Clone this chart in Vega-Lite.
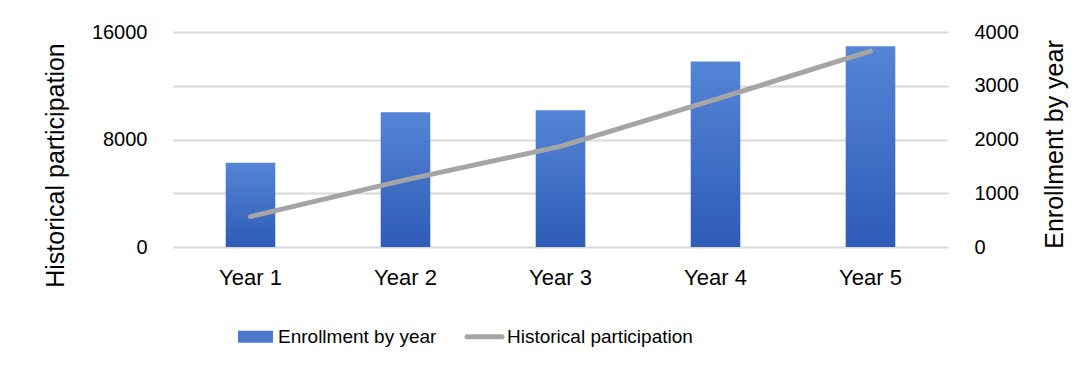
{
  "$schema": "https://vega.github.io/schema/vega-lite/v6.json",
  "autosize": {"type": "none"},
  "width": 775,
  "height": 215,
  "padding": {"left": 173, "top": 32, "right": 140, "bottom": 127},
  "background": "white",
  "config": {
    "font": "Liberation Sans",
    "view": {"stroke": null},
    "axis": {"labelFont": "Liberation Sans", "titleFont": "Liberation Sans", "titleFontWeight": "normal", "labelColor": "#000000", "titleColor": "#000000"}
  },
  "data": {
    "values": [
      {"year": "Year 1", "enrollment": 1568, "historical": 2264},
      {"year": "Year 2", "enrollment": 2507, "historical": 5000},
      {"year": "Year 3", "enrollment": 2544, "historical": 7490},
      {"year": "Year 4", "enrollment": 3453, "historical": 10980},
      {"year": "Year 5", "enrollment": 3733, "historical": 14580}
    ]
  },
  "encoding": {
    "x": {
      "field": "year", "type": "nominal", "sort": null,
      "scale": {"paddingInner": 0.68, "paddingOuter": 0.34},
      "axis": {"title": null, "labelAngle": 0, "ticks": false, "domain": false, "labelPadding": 20, "labelFontSize": 22}
    }
  },
  "layer": [
    {
      "mark": {"type": "bar", "color": {"gradient": "linear", "x1": 0, "y1": 0, "x2": 0, "y2": 1, "stops": [{"offset": 0, "color": "#5585d6"}, {"offset": 1, "color": "#2d5bb7"}]}},
      "encoding": {
        "y": {
          "field": "enrollment", "type": "quantitative",
          "scale": {"domain": [0, 4000], "nice": false},
          "axis": {"orient": "right", "title": "Enrollment by year", "format": "d", "titleAngle": 270, "titleBaseline": "top", "titleY": 112, "values": [0, 1000, 2000, 3000, 4000], "grid": true, "gridColor": "#d9d9d9", "gridWidth": 2, "domain": false, "ticks": false, "labelPadding": 26, "titlePadding": 24, "labelFontSize": 20, "titleFontSize": 25}
        }
      }
    },
    {
      "mark": {"type": "line", "strokeWidth": 5, "strokeCap": "round", "color": "#a5a5a5"},
      "encoding": {
        "y": {
          "field": "historical", "type": "quantitative",
          "scale": {"domain": [0, 16000], "nice": false},
          "axis": {"orient": "left", "title": "Historical participation", "format": "d", "titleY": 133, "values": [0, 8000, 16000], "grid": false, "domain": false, "ticks": false, "labelPadding": 26, "titlePadding": 23, "labelFontSize": 20, "titleFontSize": 25}
        },
        "color": {
          "datum": "Historical participation",
          "type": "nominal",
          "scale": {"domain": ["Enrollment by year", "Historical participation"], "range": ["#4a78cc", "#a5a5a5"]},
          "legend": {
            "title": null,
            "orient": "none",
            "direction": "horizontal",
            "legendX": 73,
            "legendY": 295,
            "labelFont": "Liberation Sans",
            "labelFontSize": 19,
            "labelColor": "#000000",
            "labelLimit": 400,
            "labelOffset": 13,
            "columnPadding": 20,
            "symbolSize": 1225,
            "encode": {
              "symbols": {
                "update": {
                  "shape": {"signal": "datum.value === 'Enrollment by year' ? 'M-1,-0.34H1V0.34H-1Z' : 'M-1,0H1'"},
                  "fill": {"signal": "datum.value === 'Enrollment by year' ? '#4a78cc' : 'transparent'"},
                  "stroke": {"signal": "datum.value === 'Enrollment by year' ? 'transparent' : '#a5a5a5'"},
                  "strokeWidth": {"signal": "datum.value === 'Enrollment by year' ? 0 : 5"},
                  "strokeCap": {"value": "round"},
                  "opacity": {"value": 1}
                }
              }
            }
          }
        }
      }
    }
  ],
  "resolve": {"scale": {"y": "independent"}}
}
